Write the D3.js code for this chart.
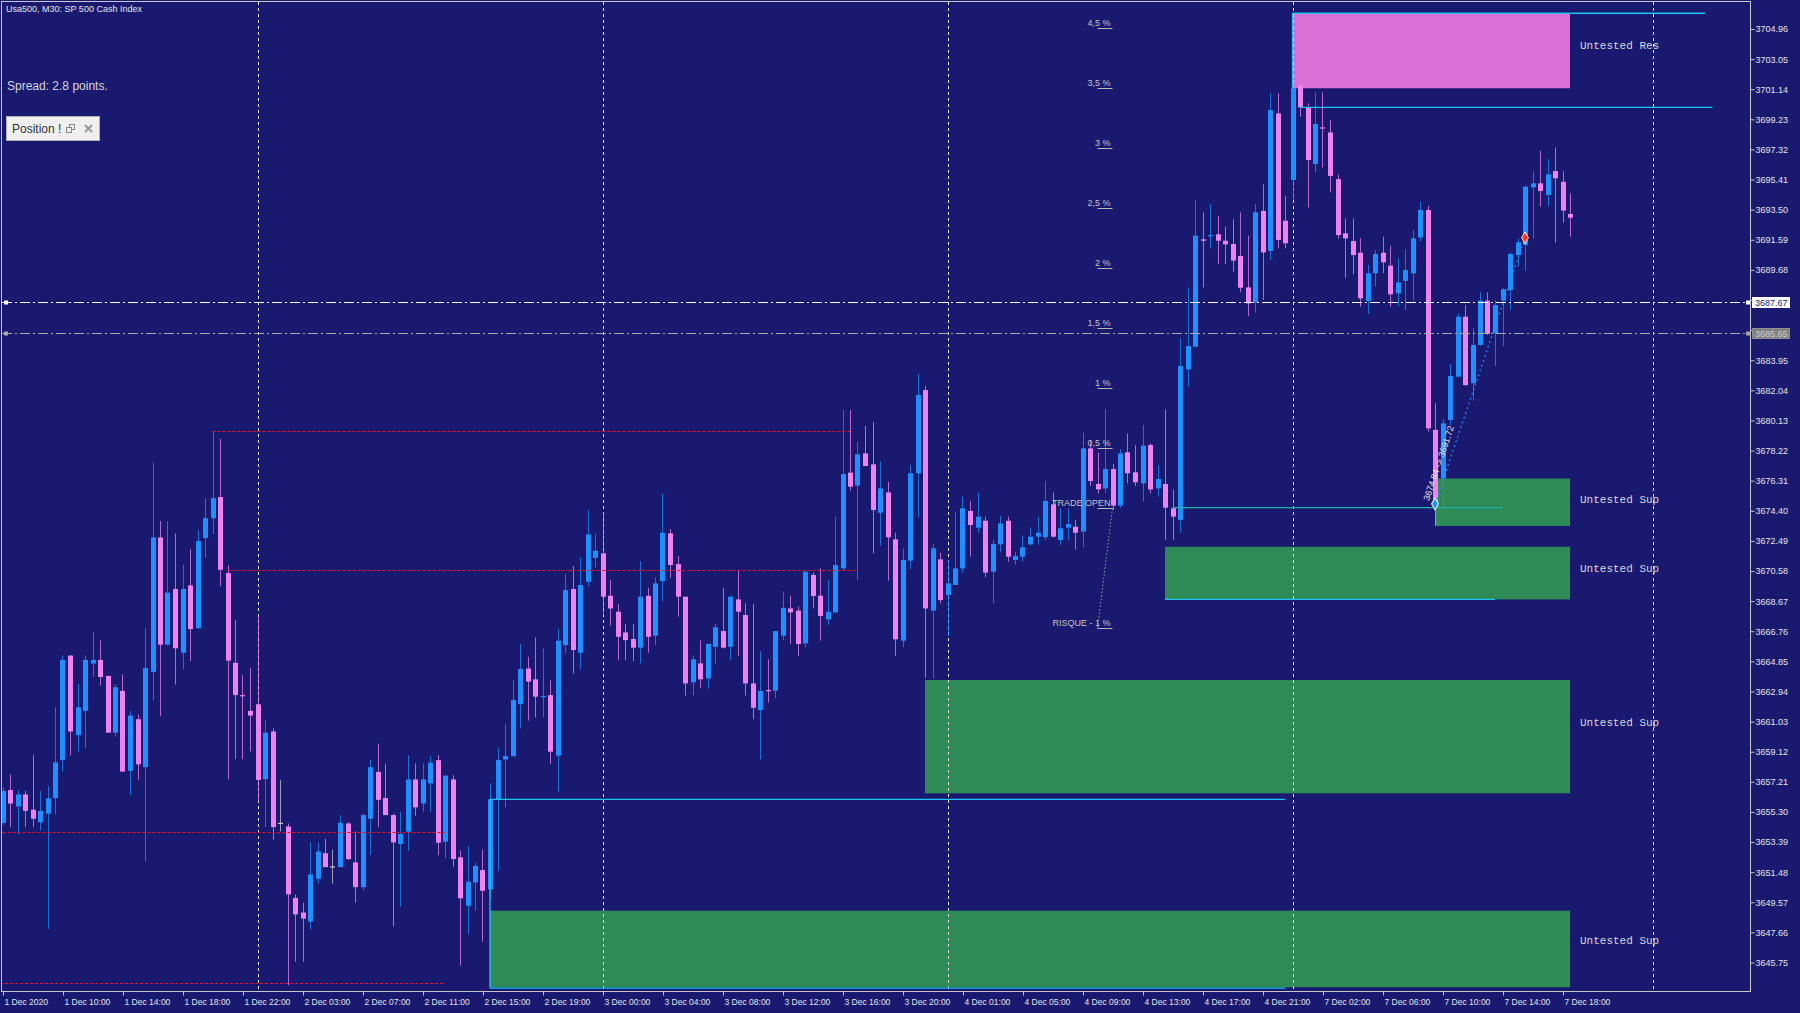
<!DOCTYPE html>
<html><head><meta charset="utf-8">
<script src="https://cdn.jsdelivr.net/npm/d3@7"></script>
<style>
html,body{margin:0;padding:0;background:#191970;overflow:hidden}
svg{display:block}
</style></head><body>
<svg id="c" width="1800" height="1013"></svg>
<script>
// ---------------- DATA ----------------
const openP=[3654.61,3656.69,3655.65,3656.41,3655.44,3654.64,3655.19,3656.18,3658.60,3665.22,
3660.17,3661.71,3664.71,3664.94,3663.93,3660.33,3662.98,3657.91,3661.18,3658.14,
3664.18,3672.71,3665.91,3669.44,3665.40,3669.67,3666.95,3672.67,3673.93,3675.27,
3670.45,3664.76,3662.71,3661.71,3662.13,3657.38,3660.40,3654.61,3654.38,3649.84,
3648.92,3648.34,3651.06,3652.68,3651.85,3651.80,3654.57,3652.10,3650.53,3654.87,
3657.84,3656.18,3655.10,3653.26,3654.05,3657.36,3655.84,3657.11,3658.59,3653.41,
3657.36,3652.42,3649.35,3650.83,3651.61,3650.39,3656.10,3658.63,3658.84,3662.14,
3664.40,3663.71,3662.61,3662.71,3658.87,3665.88,3669.44,3665.40,3669.90,3671.42,
3671.70,3669.01,3668.00,3666.69,3666.27,3665.72,3669.01,3666.48,3669.94,3672.97,
3671.02,3668.95,3663.52,3664.72,3663.77,3665.78,3666.77,3665.78,3668.78,3667.79,
3663.45,3661.76,3663.03,3662.99,3666.48,3668.21,3668.07,3665.99,3670.33,3669.02,
3667.52,3667.96,3670.75,3676.82,3676.00,3678.04,3677.35,3674.28,3675.57,3672.59,
3666.16,3671.24,3676.78,3682.06,3668.07,3671.32,3669.06,3669.70,3670.75,3674.39,
3673.33,3673.77,3670.54,3672.27,3673.77,3671.28,3671.49,3672.27,3672.76,3672.72,
3674.81,3672.55,3673.33,3673.39,3673.08,3678.36,3676.10,3675.82,3677.05,3674.73,
3678.11,3676.84,3676.14,3678.57,3675.82,3676.10,3674.56,3673.82,3683.37,3684.81,
3691.62,3691.83,3691.94,3691.53,3691.32,3690.56,3688.57,3687.62,3693.42,3690.88,
3699.61,3692.80,3695.38,3701.41,3699.99,3696.40,3698.72,3698.40,3695.44,3692.00,
3691.51,3690.77,3687.71,3689.46,3690.77,3689.95,3688.19,3688.98,3689.46,3691.74,
3693.48,3679.53,3676.46,3680.16,3682.91,3686.71,3682.49,3684.92,3687.73,3685.66,
3687.73,3688.40,3690.62,3691.26,3694.92,3695.17,3694.43,3695.95,3695.27,3693.23];
const highP=[3656.87,3657.68,3656.69,3656.64,3658.90,3656.64,3656.94,3661.94,3665.22,3665.24,
3663.44,3665.22,3666.72,3666.19,3663.93,3663.40,3664.02,3661.71,3661.48,3666.97,
3677.46,3673.75,3673.75,3672.97,3670.98,3671.97,3673.17,3675.20,3679.47,3678.96,
3670.94,3667.48,3663.97,3664.43,3667.76,3661.14,3660.61,3657.33,3654.57,3650.07,
3649.54,3653.37,3653.37,3653.60,3652.91,3655.10,3654.64,3654.06,3655.19,3658.60,
3659.64,3658.37,3655.19,3655.31,3658.91,3658.38,3658.38,3658.84,3658.91,3657.64,
3657.64,3652.84,3653.14,3652.08,3652.92,3657.11,3659.39,3660.87,3663.66,3665.95,
3665.14,3666.37,3665.67,3663.66,3666.94,3670.39,3670.90,3671.45,3674.45,3672.97,
3674.28,3670.01,3668.49,3667.22,3667.22,3671.21,3669.52,3670.18,3675.50,3673.24,
3671.53,3668.95,3665.21,3666.20,3665.99,3667.22,3669.52,3669.01,3670.60,3668.53,
3668.49,3665.50,3664.98,3666.77,3669.27,3669.02,3668.32,3670.54,3670.50,3670.75,
3670.01,3674.03,3680.79,3680.79,3678.78,3679.78,3680.05,3677.52,3676.25,3673.01,
3672.02,3677.31,3683.08,3682.32,3672.30,3671.74,3671.28,3674.35,3675.30,3675.02,
3675.57,3674.03,3672.55,3674.09,3674.03,3671.81,3672.82,3673.35,3674.03,3676.29,
3675.57,3674.56,3674.56,3673.82,3679.36,3678.89,3678.09,3680.84,3677.37,3678.30,
3679.31,3678.57,3679.84,3678.68,3677.31,3680.84,3675.76,3685.34,3688.57,3694.11,
3693.33,3693.86,3693.10,3692.42,3692.89,3693.33,3691.85,3693.86,3695.11,3700.92,
3700.88,3694.37,3701.30,3701.47,3700.24,3700.94,3700.94,3699.19,3695.74,3692.95,
3692.95,3691.68,3689.99,3690.94,3691.79,3691.22,3690.41,3690.98,3692.21,3694.01,
3693.75,3681.22,3680.20,3683.71,3686.92,3687.45,3685.97,3688.26,3688.26,3687.77,
3688.51,3690.77,3691.68,3695.00,3695.95,3697.24,3696.71,3697.45,3695.95,3694.54];
const lowP=[3654.45,3654.34,3653.87,3654.34,3654.34,3654.11,3647.88,3655.14,3657.86,3658.88,
3659.13,3659.36,3663.86,3663.33,3660.33,3660.10,3657.86,3656.37,3657.33,3652.15,
3662.36,3661.37,3665.86,3663.37,3664.37,3664.87,3666.95,3671.40,3672.94,3669.62,
3657.38,3658.65,3658.65,3659.13,3655.95,3654.34,3653.53,3654.06,3644.31,3645.80,
3645.80,3647.83,3650.76,3651.80,3650.76,3651.80,3652.26,3649.54,3650.30,3652.56,
3654.34,3655.10,3648.04,3649.29,3652.84,3655.06,3655.31,3655.31,3652.57,3652.35,
3651.83,3645.55,3647.55,3649.03,3647.07,3649.71,3651.57,3655.59,3658.80,3660.60,
3661.09,3661.30,3661.30,3658.34,3656.58,3665.36,3664.09,3664.34,3669.58,3670.81,
3667.89,3667.11,3664.93,3664.93,3664.87,3664.72,3665.40,3665.88,3668.68,3670.16,
3667.68,3662.67,3662.67,3663.14,3663.14,3664.68,3665.67,3664.93,3665.19,3662.67,
3661.19,3658.63,3662.23,3662.50,3666.20,3665.95,3665.19,3665.74,3668.21,3666.16,
3667.16,3667.90,3670.60,3675.68,3670.01,3677.24,3671.70,3672.19,3669.97,3665.19,
3665.74,3670.71,3673.99,3663.78,3663.78,3668.53,3666.46,3669.70,3670.48,3671.49,
3673.01,3670.18,3668.53,3671.76,3671.17,3670.96,3671.17,3672.23,3672.23,3672.51,
3672.70,3672.23,3672.55,3671.96,3672.08,3675.97,3675.51,3675.55,3674.45,3674.56,
3676.14,3675.97,3674.98,3675.51,3675.30,3672.55,3672.55,3673.01,3682.27,3684.77,
3688.55,3691.05,3690.05,3690.05,3689.57,3688.26,3686.75,3686.97,3687.77,3690.31,
3691.05,3691.05,3694.11,3699.40,3693.63,3695.85,3696.18,3694.60,3691.68,3689.15,
3689.40,3687.35,3686.88,3688.62,3689.46,3687.35,3687.35,3687.14,3687.73,3691.47,
3679.42,3673.44,3674.41,3679.84,3682.87,3682.32,3681.39,3684.87,3685.55,3683.58,
3684.85,3687.14,3689.88,3689.63,3691.68,3693.69,3693.69,3691.41,3692.67,3691.79];
const closeP=[3656.64,3655.83,3656.41,3655.37,3654.87,3655.37,3656.16,3658.44,3664.94,3660.40,
3661.94,3664.94,3664.94,3663.86,3660.33,3663.21,3657.86,3661.41,3658.32,3664.43,
3672.71,3665.91,3669.21,3665.68,3669.44,3666.90,3672.48,3673.93,3675.20,3670.66,
3664.90,3662.71,3662.68,3661.41,3657.33,3660.33,3654.34,3654.61,3650.07,3648.80,
3648.53,3651.34,3652.79,3651.80,3651.85,3654.61,3652.31,3650.53,3655.10,3658.14,
3656.07,3655.10,3653.37,3653.90,3657.36,3655.59,3657.36,3658.42,3653.35,3657.60,
3652.31,3649.82,3650.87,3651.87,3650.30,3656.10,3658.59,3658.84,3662.40,3664.36,
3663.56,3662.61,3662.65,3659.12,3666.16,3669.37,3665.57,3669.69,3672.90,3671.87,
3668.95,3668.21,3666.41,3666.20,3665.72,3668.95,3666.41,3669.80,3673.01,3670.96,
3668.95,3663.45,3664.98,3663.71,3665.95,3667.01,3665.72,3668.95,3668.00,3663.45,
3661.91,3662.97,3662.97,3666.77,3668.25,3667.96,3665.95,3670.54,3669.00,3667.73,
3668.00,3670.96,3676.73,3675.93,3677.98,3677.24,3674.45,3675.82,3672.72,3666.25,
3671.28,3676.78,3681.75,3668.21,3672.02,3668.74,3669.80,3670.75,3674.56,3673.50,
3674.03,3670.48,3672.30,3673.60,3671.49,3671.53,3672.08,3672.76,3673.01,3675.02,
3672.76,3673.29,3673.56,3673.01,3678.36,3676.29,3675.76,3677.05,3674.73,3678.04,
3676.78,3676.21,3678.53,3675.76,3676.42,3674.60,3674.03,3683.58,3684.85,3691.85,
3691.53,3691.89,3691.53,3691.30,3690.27,3688.55,3687.56,3693.33,3690.79,3699.82,
3691.58,3691.37,3701.20,3699.99,3696.65,3698.93,3698.66,3695.64,3691.89,3691.68,
3690.62,3687.88,3689.46,3690.69,3690.16,3688.13,3688.89,3689.67,3691.68,3693.48,
3679.63,3674.87,3679.95,3682.95,3686.71,3682.38,3684.92,3687.73,3685.62,3687.45,
3688.45,3690.69,3691.43,3694.96,3695.17,3694.68,3695.74,3695.49,3693.44,3692.99];

const priceTicks=["3645.75","3647.66","3649.57","3651.48","3653.39","3655.30","3657.21","3659.12",
"3661.03","3662.94","3664.85","3666.76","3668.67","3670.58","3672.49","3674.40","3676.31","3678.22",
"3680.13","3682.04","3683.95","3685.86","3687.77","3689.68","3691.59","3693.50","3695.41","3697.32",
"3699.23","3701.14","3703.05","3704.96"];
const timeLabels=["1 Dec 2020","1 Dec 10:00","1 Dec 14:00","1 Dec 18:00","1 Dec 22:00","2 Dec 03:00",
"2 Dec 07:00","2 Dec 11:00","2 Dec 15:00","2 Dec 19:00","3 Dec 00:00","3 Dec 04:00","3 Dec 08:00",
"3 Dec 12:00","3 Dec 16:00","3 Dec 20:00","4 Dec 01:00","4 Dec 05:00","4 Dec 09:00","4 Dec 13:00",
"4 Dec 17:00","4 Dec 21:00","7 Dec 02:00","7 Dec 06:00","7 Dec 10:00","7 Dec 14:00","7 Dec 18:00"];
const timeTickBars=[0,8,16,24,32,40,48,56,64,72,80,88,96,104,112,120,128,136,144,152,160,168,176,184,192,200,208];
const daySeparatorBars=[34,80,126,172,220];

// zones: [startBar, endBar, topPrice, bottomPrice, label, labelPrice]
const zoneKinds=["res","sup","sup","sup","sup"];
const zoneStart=[172,191,155,123,65];
const zoneEnd=[209,209,209,209,209];
const zoneTop=[3705.96,3676.45,3672.12,3663.67,3649.04];
const zoneBottom=[3701.20,3673.44,3668.78,3656.48,3644.18];
const zoneLabels=["Untested Res","Untested Sup","Untested Sup","Untested Sup","Untested Sup"];
const zoneLabelPrice=[3703.90,3675.05,3670.68,3660.93,3647.11];

// cyan segments: [bar0, price0, bar1, price1]
const cyanSegs=[[65,3656.10,171,3656.10],[65,3656.10,65,3644.13],[65,3644.13,171,3644.13],
[155,3668.78,199,3668.78],[172,3705.96,227,3705.96],[172,3705.96,172,3701.20],[173,3699.99,228,3699.99]];
const tradeLine=[156,3674.60,200,3674.60];
// red dotted levels: [bar0, bar1, price]
const redLevels=[[28,113,3679.47],[30,114,3670.66],[0,59,3654.01],[-1,59,3644.45]];
const bidPrice=3687.67, askPrice=3685.65;
// risk tool levels
const riskLabels=["4,5 %","3,5 %","3 %","2,5 %","2 %","1,5 %","1 %","0,5 %","TRADE OPEN","RISQUE - 1 %"];
const riskPrices=[3705.01,3701.20,3697.40,3693.59,3689.78,3685.98,3682.17,3678.37,3674.56,3666.95];
const riskBars=[146,148];
const riskLink=[148,3674.56,146,3666.95];
// measurement arrow
const arrowFrom=[191,3674.84], arrowTo=[203,3691.72];
const arrowText="3674.84 -> 3691.72";

// ---------------- LAYOUT ----------------
const L=2,R=1751,T=2,B=992;
const svg=d3.select("#c");
const x=d3.scaleLinear().domain([0,209]).range([2.5,1570]);
const y=d3.scaleLinear().domain([3645.75,3704.96]).range([962.5,29]);
const BG="#191970",BULL="#1E90FF",BEAR="#EE82EE",CYAN="#1FC3F2";
const FONT="'Liberation Sans', Arial, sans-serif";

svg.append("rect").attr("width",1800).attr("height",1013).attr("fill",BG);
svg.append("defs").append("clipPath").attr("id","plot").append("rect")
  .attr("x",L).attr("y",T).attr("width",R-L).attr("height",B-T);
const g=svg.append("g").attr("clip-path","url(#plot)");

// zones
const zi=d3.range(zoneStart.length);
g.selectAll("rect.zone").data(zi).join("rect").attr("class","zone")
  .attr("x",i=>x(zoneStart[i])).attr("width",i=>x(zoneEnd[i])-x(zoneStart[i]))
  .attr("y",i=>y(zoneTop[i])).attr("height",i=>y(zoneBottom[i])-y(zoneTop[i]))
  .attr("fill",i=>zoneKinds[i]==="res"?"#DA70D6":"#2E8B57");

// day separators
g.selectAll("line.grid").data(daySeparatorBars).join("line").attr("class","grid")
  .attr("x1",d=>Math.round(x(d))+0.5).attr("x2",d=>Math.round(x(d))+0.5)
  .attr("y1",T).attr("y2",B).attr("stroke","#E8E8E8").attr("stroke-width",1)
  .attr("stroke-dasharray","3,3");

// candles
const idx=d3.range(openP.length);
const col=i=>openP[i]===closeP[i]?"#C8C8C8":(closeP[i]>openP[i]?BULL:BEAR);
g.selectAll("line.wick").data(idx).join("line").attr("class","wick")
  .attr("x1",i=>Math.round(x(i))+0.5).attr("x2",i=>Math.round(x(i))+0.5)
  .attr("y1",i=>y(highP[i])).attr("y2",i=>y(lowP[i]))
  .attr("stroke",col).attr("stroke-width",1).attr("stroke-opacity",0.75);
g.selectAll("rect.body").data(idx).join("rect").attr("class","body")
  .attr("x",i=>Math.round(x(i))-2).attr("width",5)
  .attr("y",i=>y(Math.max(openP[i],closeP[i])))
  .attr("height",i=>Math.max(1.2,Math.abs(y(openP[i])-y(closeP[i]))))
  .attr("fill",col);

// red dotted levels
g.selectAll("line.red").data(redLevels).join("line")
  .attr("x1",d=>x(d[0])).attr("x2",d=>x(d[1])).attr("y1",d=>Math.round(y(d[2]))+0.5).attr("y2",d=>Math.round(y(d[2]))+0.5)
  .attr("stroke","#E8101E").attr("stroke-width",1).attr("stroke-dasharray","3,2");

// cyan lines
g.selectAll("line.cyan").data(cyanSegs).join("line")
  .attr("x1",d=>x(d[0])).attr("y1",d=>y(d[1])).attr("x2",d=>x(d[2])).attr("y2",d=>y(d[3]))
  .attr("stroke",CYAN).attr("stroke-width",1.3);
g.append("line").attr("x1",x(tradeLine[0])).attr("x2",x(tradeLine[2]))
  .attr("y1",y(tradeLine[1])).attr("y2",y(tradeLine[3]))
  .attr("stroke","#20B2AA").attr("stroke-width",1.3);

// bid / ask lines
[[bidPrice,"#FFFFFF"],[askPrice,"#A8A8A8"]].forEach(([p,c])=>{
  const yy=Math.round(y(p))+0.5;
  g.append("line").attr("x1",L).attr("x2",R).attr("y1",yy).attr("y2",yy)
    .attr("stroke",c).attr("stroke-width",1).attr("stroke-dasharray","10,3,2,3");
  g.append("rect").attr("x",4).attr("y",yy-2).attr("width",4).attr("height",4).attr("fill",c);
  g.append("rect").attr("x",R-5).attr("y",yy-2).attr("width",4).attr("height",4).attr("fill",c);
});

// risk tool
g.append("line").attr("x1",x(riskLink[0])).attr("y1",y(riskLink[1]))
  .attr("x2",x(riskLink[2])).attr("y2",y(riskLink[3]))
  .attr("stroke","#9A9A9A").attr("stroke-width",1).attr("stroke-dasharray","1.5,2");
riskLabels.forEach((lab,i)=>{
  const yy=Math.round(y(riskPrices[i]))+0.5;
  g.append("line").attr("x1",x(riskBars[0])).attr("x2",x(riskBars[1])).attr("y1",yy).attr("y2",yy)
    .attr("stroke","#B8B8B8").attr("stroke-width",1);
  g.append("text").attr("x",x(riskBars[1])-2).attr("y",yy-3).attr("text-anchor","end")
    .attr("font-family",FONT).attr("font-size",9).attr("fill","#C4C4C4").text(lab);
});

// measurement arrow
const ax0=x(arrowFrom[0]),ay0=y(arrowFrom[1]),ax1=x(arrowTo[0]),ay1=y(arrowTo[1]);
g.append("line").attr("x1",ax0).attr("y1",ay0).attr("x2",ax1).attr("y2",ay1)
  .attr("stroke",BULL).attr("stroke-width",1.2).attr("stroke-dasharray","2,3");
const ang=Math.atan2(ay1-ay0,ax1-ax0)*180/Math.PI;
g.append("text").attr("transform",`translate(${ax0-4},${ay0-2}) rotate(${ang})`)
  .attr("x",0).attr("y",-2).attr("font-family",FONT).attr("font-size",9)
  .attr("fill","#E8E8E8").text(arrowText);
g.append("path").attr("d",d3.symbol(d3.symbolDiamond,40)())
  .attr("transform",`translate(${ax0},${ay0})`).attr("fill",BULL).attr("stroke","#E0E0E0").attr("stroke-width",1.2);
g.append("path").attr("d",d3.symbol(d3.symbolDiamond,40)())
  .attr("transform",`translate(${ax1},${ay1})`).attr("fill","#FF3B1A").attr("stroke","#F0F0F0").attr("stroke-width",1);

// zone labels
g.selectAll("text.zl").data(zi).join("text").attr("class","zl")
  .attr("x",i=>x(zoneEnd[i])+10).attr("y",i=>y(zoneLabelPrice[i]))
  .attr("dominant-baseline","middle").attr("font-family","'Liberation Mono','Courier New',monospace")
  .attr("font-size",11).attr("fill","#D8D8D8").text(i=>zoneLabels[i]);

// frame
svg.append("rect").attr("x",L-0.5).attr("y",T-0.5).attr("width",R-L).attr("height",B-T)
  .attr("fill","none").attr("stroke","#C8C8C8").attr("stroke-width",1);

// axes
const yAxis=d3.axisRight(y).tickValues(priceTicks.map(Number)).tickSize(4).tickPadding(1)
  .tickFormat((d,i)=>priceTicks[i]);
const ya=svg.append("g").attr("transform",`translate(${R-0.5},0)`).call(yAxis);
ya.select(".domain").remove();
ya.selectAll("line").attr("stroke","#C8C8C8");
ya.selectAll("text").attr("fill","#E4E4E4").attr("font-family",FONT).attr("font-size",9);

const xAxis=d3.axisBottom(x).tickValues(timeTickBars).tickSize(4).tickPadding(3)
  .tickFormat((d,i)=>timeLabels[i]);
const xa=svg.append("g").attr("transform",`translate(0.5,${B-0.5})`).call(xAxis);
xa.select(".domain").remove();
xa.selectAll("line").attr("stroke","#C8C8C8");
xa.selectAll("text").attr("fill","#E4E4E4").attr("font-family",FONT).attr("font-size",8.5)
  .attr("text-anchor","start").attr("dx",1);

// price boxes
[[bidPrice,"#FFFFFF",BG,"#FFFFFF"],[askPrice,"#808080","#D0D0D0","#909090"]].forEach(([p,fill,tc,st])=>{
  const yy=Math.round(y(p));
  svg.append("rect").attr("x",R+1.5).attr("y",yy-4.5).attr("width",37).attr("height",10)
    .attr("fill",fill).attr("stroke",st).attr("stroke-width",1);
  svg.append("text").attr("x",R+4).attr("y",yy+4).attr("font-family",FONT).attr("font-size",9)
    .attr("fill",tc).text(d3.format(".2f")(p));
});

// top-left info
svg.append("text").attr("x",6).attr("y",12).attr("font-family",FONT).attr("font-size",9)
  .attr("fill","#E4E4E4").text("Usa500, M30:  SP 500 Cash Index");
svg.append("text").attr("x",7).attr("y",90).attr("font-family",FONT).attr("font-size",12)
  .attr("fill","#D8D8D8").text("Spread: 2.8 points.");
const btn=svg.append("g");
btn.append("rect").attr("x",6.5).attr("y",116.5).attr("width",93).attr("height",24)
  .attr("fill","#F0F0F0").attr("stroke","#B0B0B0");
btn.append("text").attr("x",12).attr("y",133).attr("font-family",FONT).attr("font-size",12)
  .attr("fill","#333333").text("Position !");
btn.append("rect").attr("x",69.5).attr("y",124.5).attr("width",5).attr("height",5).attr("fill","none").attr("stroke","#8A8A8A");
btn.append("rect").attr("x",66.5).attr("y",127.5).attr("width",5).attr("height",5).attr("fill","#F0F0F0").attr("stroke","#8A8A8A");
btn.append("path").attr("d","M85,125 L92,132 M92,125 L85,132").attr("stroke","#9A9A9A").attr("stroke-width",2);
</script>
</body></html>
